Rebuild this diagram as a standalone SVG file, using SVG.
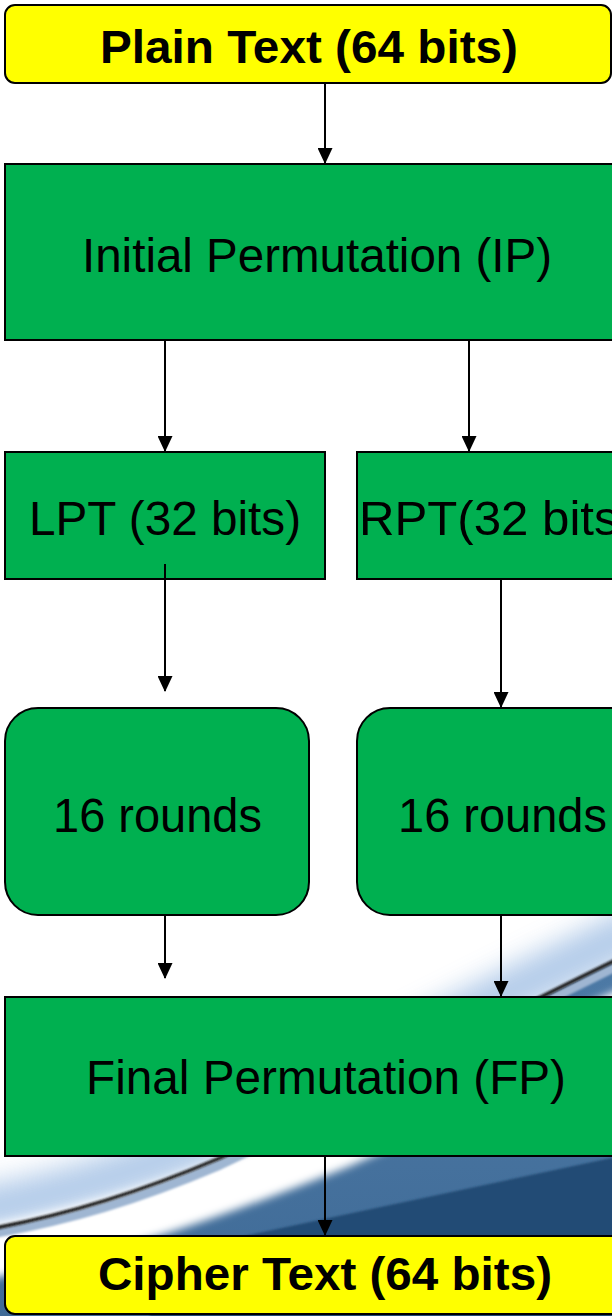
<svg xmlns="http://www.w3.org/2000/svg" width="612" height="1316" viewBox="0 0 612 1316">
  <style>
    .term { fill: #FFFF00; stroke: #000; stroke-width: 2; }
    .step { fill: #00B050; stroke: #000; stroke-width: 2; }
    .bold { font-family: "Liberation Sans", Arial, sans-serif; font-weight: bold; font-size: 47px; fill: #000; }
    .reg { font-family: "Liberation Sans", Arial, sans-serif; font-size: 48px; fill: #000; }
    .wire { stroke: #000; stroke-width: 2; fill: none; marker-end: url(#arrow); }
  </style>
  <defs>
    <marker id="arrow" markerUnits="userSpaceOnUse" markerWidth="16" markerHeight="15" refX="15" refY="7.5" orient="auto">
      <path d="M0,0 L16,7.5 L0,15 Z" fill="#000"/>
    </marker>
    <filter id="haze" x="-30%" y="-30%" width="160%" height="160%"><feGaussianBlur stdDeviation="13"/></filter>
    <filter id="glow" x="-20%" y="-50%" width="140%" height="200%"><feGaussianBlur stdDeviation="4"/></filter>
    <filter id="edge" x="-10%" y="-50%" width="120%" height="200%"><feGaussianBlur stdDeviation="1.2"/></filter>
    <linearGradient id="midBlue" x1="0" y1="0" x2="0" y2="1">
      <stop offset="0" stop-color="#4d7aa6"/>
      <stop offset="1" stop-color="#3f6a96"/>
    </linearGradient>
  </defs>

  <!-- slide backdrop with swoosh -->
  <g id="backdrop">
    <rect x="0" y="0" width="612" height="1316" fill="#fff"/>
    <path d="M -30,1212 C 60,1194 140,1172 220,1136 C 350,1073 480,1004 640,928" stroke="#a8c4e6" stroke-width="46" fill="none" opacity="0.85" filter="url(#haze)"/>
    <path d="M -20,1232 C 70,1216 140,1194 220,1160 C 350,1097 480,1028 640,950 L 640,1330 L -20,1330 Z" fill="url(#midBlue)"/>
    <path d="M -30,1256 C 100,1232 200,1198 340,1142 L 660,1000" stroke="#ffffff" stroke-width="52" fill="none" filter="url(#glow)"/>
    <path d="M -20,1236 C 70,1221 140,1199 220,1165 C 350,1102 480,1033 640,955" stroke="#9fb6d2" stroke-width="9" fill="none" filter="url(#edge)"/>
    <path d="M -10,1229 C 70,1214 140,1192 220,1158 C 350,1095 480,1026 620,958" stroke="#141414" stroke-width="3.5" fill="none" filter="url(#edge)"/>
    <path d="M 150,1256 L 640,1152 L 640,1330 L 150,1330 Z" fill="#244b74" filter="url(#edge)"/>
  </g>

  <g id="plain-text">
    <rect class="term" x="5" y="5" width="606" height="78" rx="10"/>
    <text class="bold" x="100" y="63" textLength="418" lengthAdjust="spacingAndGlyphs">Plain Text (64 bits)</text>
  </g>

  <g id="initial-permutation">
    <rect class="step" x="5" y="164" width="640" height="176"/>
    <text class="reg" x="82" y="272" textLength="470" lengthAdjust="spacingAndGlyphs">Initial Permutation (IP)</text>
  </g>

  <g id="lpt">
    <rect class="step" x="5" y="452" width="320" height="127"/>
    <text class="reg" x="29" y="535" textLength="272" lengthAdjust="spacingAndGlyphs">LPT (32 bits)</text>
  </g>

  <g id="rpt">
    <rect class="step" x="357" y="452" width="320" height="127"/>
    <text class="reg" x="359" y="535" textLength="276" lengthAdjust="spacingAndGlyphs">RPT(32 bits)</text>
  </g>

  <g id="rounds-left">
    <rect class="step" x="5" y="708" width="304" height="207" rx="33"/>
    <text class="reg" x="53" y="832" textLength="209" lengthAdjust="spacingAndGlyphs">16 rounds</text>
  </g>

  <g id="rounds-right">
    <rect class="step" x="357" y="708" width="304" height="207" rx="33"/>
    <text class="reg" x="398" y="832" textLength="209" lengthAdjust="spacingAndGlyphs">16 rounds</text>
  </g>

  <g id="final-permutation">
    <rect class="step" x="5" y="997" width="650" height="159"/>
    <text class="reg" x="86" y="1094" textLength="480" lengthAdjust="spacingAndGlyphs">Final Permutation (FP)</text>
  </g>

  <g id="cipher-text">
    <rect class="term" x="5" y="1236" width="650" height="78" rx="10"/>
    <text class="bold" x="98" y="1290" textLength="454" lengthAdjust="spacingAndGlyphs">Cipher Text (64 bits)</text>
  </g>

  <g id="connectors">
    <line class="wire" x1="325" y1="84" x2="325" y2="163"/>
    <line class="wire" x1="165" y1="341" x2="165" y2="451"/>
    <line class="wire" x1="469" y1="341" x2="469" y2="451"/>
    <line class="wire" x1="165" y1="564" x2="165" y2="691"/>
    <line class="wire" x1="501" y1="580" x2="501" y2="707"/>
    <line class="wire" x1="165" y1="916" x2="165" y2="978"/>
    <line class="wire" x1="501" y1="916" x2="501" y2="996"/>
    <line class="wire" x1="325" y1="1157" x2="325" y2="1235"/>
  </g>
</svg>
